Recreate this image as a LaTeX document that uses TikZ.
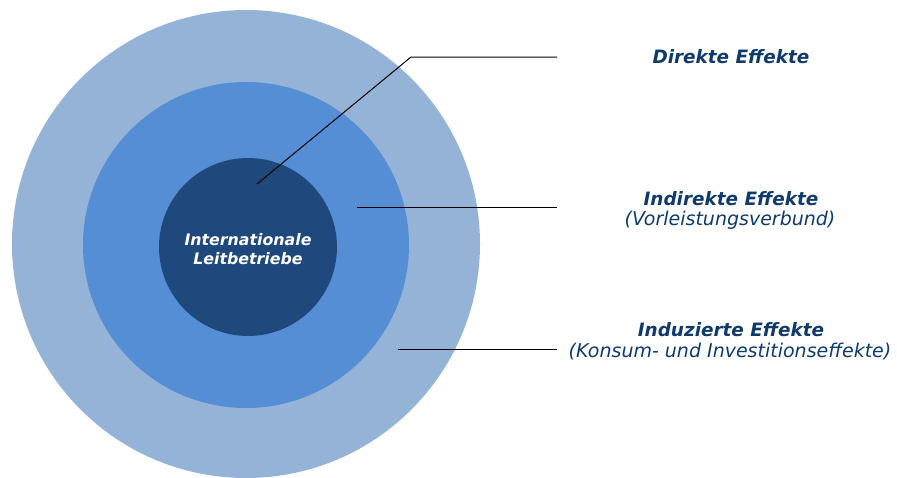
\documentclass[tikz,border=0pt]{standalone}
\usepackage{fontspec}
\setmainfont{DejaVu Sans}
\definecolor{outerc}{HTML}{95B3D7}
\definecolor{midc}{HTML}{558ED5}
\definecolor{innerc}{HTML}{1F497D}
\definecolor{txtc}{HTML}{103A6C}
\begin{document}
\begin{tikzpicture}[x=1pt,y=-1pt,
  ring/.style={circle,inner sep=0pt,draw=none},
  head/.style={font=\fontsize{18.4}{21}\selectfont\bfseries\itshape,text=txtc,inner sep=0pt},
  sub/.style={font=\fontsize{19}{21}\selectfont\itshape,text=txtc,inner sep=0pt},
  leader/.style={draw=black,line width=1pt}]
\useasboundingbox (0,0) rectangle (897,477);
\begin{scope}
\clip (0,0) rectangle (897,477);
\node[ring,fill=outerc,minimum size=468] (outer) at (246,244) {};
\node[ring,fill=midc,minimum size=326] (mid) at (246,245) {};
\node[ring,fill=innerc,minimum size=178] (inner) at (248,247) {};
\end{scope}
\node[align=center,text=white,inner sep=0pt,
  font=\fontsize{15.8}{18.5}\selectfont\bfseries\itshape] (innertext) at (248,249) {Internationale\\Leitbetriebe};
\node[head] (h1) at (731,57) {Direkte Effekte};
\node[head] (h2) at (731,199) {Indirekte Effekte};
\node[sub] (s2) at (730,220) {(Vorleistungsverbund)};
\node[head] (h3) at (731,330) {Induzierte Effekte};
\node[sub] (s3) at (730,352) {(Konsum- und Investitionseffekte)};
\coordinate (a1) at (257,184);
\coordinate (k1) at (411,57);
\coordinate (e1) at (557,57);
\coordinate (a2) at (357,207);
\coordinate (e2) at (557,207);
\coordinate (a3) at (398,349);
\coordinate (e3) at (557,349);
\draw[leader] (a1) -- (k1) -- (e1);
\draw[leader] (a2) -- (e2);
\draw[leader] (a3) -- (e3);
\end{tikzpicture}
\end{document}
